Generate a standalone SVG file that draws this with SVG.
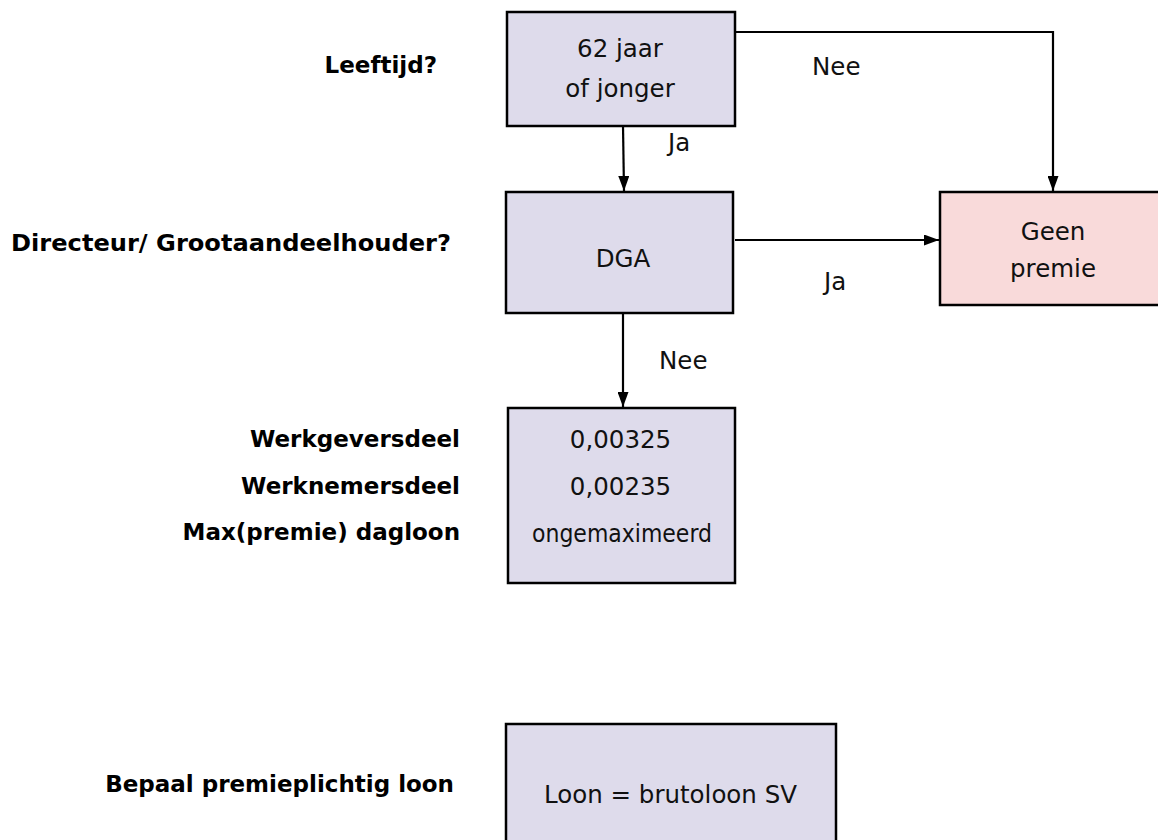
<svg xmlns="http://www.w3.org/2000/svg" width="1158" height="840" viewBox="0 0 1158 840">
  <style>
    .box { fill: #DEDBEB; stroke: #000; stroke-width: 2.5; }
    .pink { fill: #F9DADA; stroke: #000; stroke-width: 2.5; }
    .t { font-family: "DejaVu Sans", Verdana, sans-serif; font-size: 24.5px; fill: #111; }
    .c { text-anchor: middle; }
    .lbl { font-family: "DejaVu Sans", Verdana, sans-serif; font-size: 23px; font-weight: bold; fill: #000; text-anchor: end; }
    .conn { fill: none; stroke: #000; stroke-width: 2.2; }
  </style>
  <defs>
    <marker id="arr" viewBox="0 0 15 11" refX="15" refY="5.5" markerWidth="15" markerHeight="11" markerUnits="userSpaceOnUse" orient="auto">
      <path d="M0,0 L15,5.5 L0,11 Z" fill="#000"/>
    </marker>
  </defs>

  <rect width="1158" height="840" fill="#fff"/>

  <g id="labels">
    <text class="lbl" x="437" y="73">Leeftijd?</text>
    <text class="lbl" x="451" y="251" textLength="440" lengthAdjust="spacingAndGlyphs">Directeur/ Grootaandeelhouder?</text>
    <text class="lbl" x="460" y="447">Werkgeversdeel</text>
    <text class="lbl" x="460" y="494">Werknemersdeel</text>
    <text class="lbl" x="460" y="540">Max(premie) dagloon</text>
    <text class="lbl" x="454" y="792">Bepaal premieplichtig loon</text>
  </g>

  <g id="connectors">
    <path class="conn" d="M623,126 L624,191" marker-end="url(#arr)"/>
    <path class="conn" d="M735,32 L1053,32 L1053,191" marker-end="url(#arr)"/>
    <path class="conn" d="M735,240 L939,240" marker-end="url(#arr)"/>
    <path class="conn" d="M623,313 L623,407" marker-end="url(#arr)"/>
    <text class="t" x="668" y="151">Ja</text>
    <text class="t" x="812" y="75">Nee</text>
    <text class="t" x="824" y="290">Ja</text>
    <text class="t" x="659" y="369">Nee</text>
  </g>

  <g id="node-age">
    <rect class="box" x="507" y="12" width="228" height="114"/>
    <text class="t c" x="620" y="57">62 jaar</text>
    <text class="t c" x="620" y="97">of jonger</text>
  </g>

  <g id="node-dga">
    <rect class="box" x="506" y="192" width="227" height="121"/>
    <text class="t c" x="623" y="267">DGA</text>
  </g>

  <g id="node-geen-premie">
    <rect class="pink" x="940" y="192" width="228" height="113"/>
    <text class="t c" x="1053" y="240">Geen</text>
    <text class="t c" x="1053" y="277">premie</text>
  </g>

  <g id="node-premie">
    <rect class="box" x="508" y="408" width="227" height="175"/>
    <text class="t c" x="620.5" y="448">0,00325</text>
    <text class="t c" x="620.5" y="495">0,00235</text>
    <text class="t c" x="622" y="542" textLength="180" lengthAdjust="spacingAndGlyphs">ongemaximeerd</text>
  </g>

  <g id="node-loon">
    <rect class="box" x="506" y="724" width="330" height="140"/>
    <text class="t c" x="670.5" y="803">Loon = brutoloon SV</text>
  </g>
</svg>
